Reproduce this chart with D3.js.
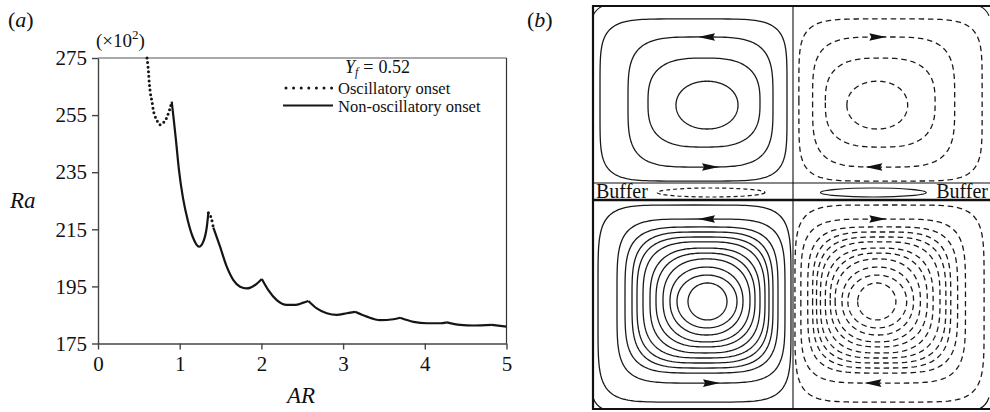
<!DOCTYPE html>
<html>
<head>
<meta charset="utf-8">
<script src="https://cdn.jsdelivr.net/npm/d3@7"></script>
<style>
  html, body { margin: 0; padding: 0; background: #fff; }
  svg { display: block; font-family: "Liberation Serif", "DejaVu Serif", serif; }
</style>
</head>
<body>
<script>
//------------ DATA: PANEL (a) ----------------------
// Ra in units of 10^2
const oscAR1 = [0.600, 0.616, 0.628, 0.645, 0.661, 0.686, 0.719, 0.759, 0.820, 0.861, 0.882, 0.902];
const oscRa1 = [275.0, 270.8, 266.1, 262.0, 259.7, 255.6, 253.3, 251.6, 253.0, 255.6, 257.4, 259.7];

const oscAR2 = [1.351, 1.372, 1.392, 1.412];
const oscRa2 = [220.8, 220.0, 218.3, 215.6];

const nonOscAR1 = [0.902, 0.925, 0.955, 0.990, 1.040, 1.100, 1.160, 1.237, 1.289, 1.332, 1.351];
const nonOscRa1 = [259.7, 254.0, 246.0, 236.0, 226.0, 218.0, 212.3, 208.9, 210.7, 215.9, 220.8];

const nonOscAR2 = [1.412, 1.494, 1.576, 1.657, 1.739, 1.821, 1.923, 2.005, 2.085, 2.188,
                   2.311, 2.412, 2.514, 2.575, 2.678, 2.800, 2.923, 3.046, 3.147, 3.290,
                   3.453, 3.616, 3.698, 3.861, 4.025, 4.188, 4.270, 4.433, 4.596, 4.821, 5.000];
const nonOscRa2 = [215.6, 208.9, 201.9, 197.2, 194.9, 194.3, 195.5, 197.6, 193.7, 190.2,
                   188.5, 188.5, 189.3, 189.9, 187.3, 185.6, 185.0, 185.6, 186.1, 184.4,
                   183.2, 183.5, 184.0, 182.6, 182.1, 182.1, 182.4, 181.5, 181.3, 181.5, 180.9];

const raTicks = [175, 195, 215, 235, 255, 275];
const arTicks = [0, 1, 2, 3, 4, 5];

//------------ DATA: PANEL (b) ----------------------
// streamline loops of the left cells, as [x0, x1, y0, y1] fractions of the cell
// (right cells are the mirror image, drawn dashed)
const upperLoops = [
  [0.035, 0.970, 0.073, 0.989],
  [0.175, 0.900, 0.175, 0.910],
  [0.275, 0.835, 0.294, 0.797],
  [0.415, 0.725, 0.425, 0.695]
];
const lowerLoops = [
  [0.025, 0.990, 0.024, 0.967],
  [0.120, 0.960, 0.091, 0.876],
  [0.160, 0.925, 0.129, 0.828],
  [0.195, 0.900, 0.153, 0.804],
  [0.220, 0.880, 0.177, 0.780],
  [0.250, 0.860, 0.200, 0.756],
  [0.285, 0.835, 0.230, 0.732],
  [0.315, 0.810, 0.254, 0.703],
  [0.350, 0.785, 0.282, 0.679],
  [0.385, 0.750, 0.321, 0.646],
  [0.420, 0.720, 0.359, 0.612],
  [0.475, 0.670, 0.397, 0.574]
];
// arrows: loop index, side, x fraction, direction (-1 = leftwards)
const upperArrows = [[1, "top", 0.57, -1], [1, "bottom", 0.585, 1]];
const lowerArrows = [[1, "top", 0.57, -1], [1, "bottom", 0.59, 1]];
// thin buffer eddy, x fractions of the left cell
const bufferEddy = [0.32, 0.86];
const panelLabels = ["(a)", "(b)"];

//----------- SVG ---------------------------------
const W = 990, H = 412;
const svg = d3.select("body").append("svg").attr("width", W).attr("height", H);

//----------- PANEL (a) ---------------------------
const x = d3.scaleLinear().domain([0, 5]).range([98, 506.5]);
const y = d3.scaleLinear().domain([175, 275]).range([343.5, 58]);

const gA = svg.append("g");

// frame top / right
gA.append("line").attr("x1", x(0)).attr("x2", x(5)).attr("y1", y(275)).attr("y2", y(275))
  .attr("stroke", "#555").attr("stroke-width", 1.2);
gA.append("line").attr("x1", x(5)).attr("x2", x(5)).attr("y1", y(275)).attr("y2", y(175))
  .attr("stroke", "#333").attr("stroke-width", 1.2);

const yAxis = gA.append("g").attr("transform", `translate(${x(0)},0)`)
  .call(d3.axisLeft(y).tickValues(raTicks).tickSize(6).tickSizeOuter(0).tickPadding(5));
const xAxis = gA.append("g").attr("transform", `translate(0,${y(175)})`)
  .call(d3.axisBottom(x).tickValues(arTicks).tickFormat(d3.format("d"))
    .tickSize(6).tickSizeOuter(0).tickPadding(7));

[yAxis, xAxis].forEach(a => {
  a.selectAll("path, line").attr("stroke", "#444").attr("stroke-width", 1.4);
  a.selectAll("text").attr("fill", "#111").style("font-size", "21px")
    .style("font-family", '"Liberation Serif", serif');
});

// split a series at its local maxima so the peaks stay sharp
function splitAtPeaks(xs, ys) {
  const pts = xs.map((v, i) => [v, ys[i]]);
  const segs = [];
  let cur = [pts[0]];
  for (let i = 1; i < pts.length; i++) {
    cur.push(pts[i]);
    if (i < pts.length - 1 && ys[i] > ys[i - 1] && ys[i] > ys[i + 1]) {
      segs.push(cur);
      cur = [pts[i]];
    }
  }
  segs.push(cur);
  return segs;
}

const lineA = d3.line().x(d => x(d[0])).y(d => y(d[1])).curve(d3.curveMonotoneX);
const lineCat = d3.line().x(d => x(d[0])).y(d => y(d[1])).curve(d3.curveCatmullRom.alpha(0.5));

[[nonOscAR1, nonOscRa1], [nonOscAR2, nonOscRa2]].forEach(([xs, ys]) => {
  splitAtPeaks(xs, ys).forEach(seg => {
    gA.append("path").attr("d", lineA(seg)).attr("fill", "none")
      .attr("stroke", "#151515").attr("stroke-width", 2.2).attr("stroke-linejoin", "round");
  });
});

[[oscAR1, oscRa1], [oscAR2, oscRa2]].forEach(([xs, ys]) => {
  gA.append("path").attr("d", lineCat(xs.map((v, i) => [v, ys[i]])))
    .attr("fill", "none").attr("stroke", "#151515").attr("stroke-width", 3)
    .attr("stroke-linecap", "round").attr("stroke-dasharray", "0 4.6");
});

// multiplier
const mult = gA.append("text").attr("x", 96).attr("y", 47).style("font-size", "19px").attr("fill", "#111");
mult.append("tspan").text("(×10");
mult.append("tspan").attr("dy", -8).style("font-size", "13px").text("2");
mult.append("tspan").attr("dy", 8).text(")");

// axis titles
gA.append("text").attr("x", 10).attr("y", 208).style("font-size", "23px")
  .style("font-style", "italic").attr("fill", "#111").text("Ra");
gA.append("text").attr("x", 287).attr("y", 403).style("font-size", "23px")
  .style("font-style", "italic").attr("fill", "#111").text("AR");

// legend
const yf = gA.append("text").attr("x", 345).attr("y", 73).style("font-size", "18px").attr("fill", "#111");
yf.append("tspan").style("font-style", "italic").text("Y");
yf.append("tspan").style("font-style", "italic").style("font-size", "12px").attr("dy", 3).text("f");
yf.append("tspan").attr("dy", -3).attr("dx", 5).text("=");
yf.append("tspan").attr("dx", 5).text("0.52");

gA.append("line").attr("x1", 286).attr("x2", 333).attr("y1", 88).attr("y2", 88)
  .attr("stroke", "#151515").attr("stroke-width", 3).attr("stroke-linecap", "round")
  .attr("stroke-dasharray", "0 7.6");
gA.append("text").attr("x", 338).attr("y", 93.5).style("font-size", "16.5px").attr("fill", "#111")
  .text("Oscillatory onset");
gA.append("line").attr("x1", 283).attr("x2", 333).attr("y1", 105.5).attr("y2", 105.5)
  .attr("stroke", "#151515").attr("stroke-width", 2);
gA.append("text").attr("x", 338).attr("y", 112).style("font-size", "16.5px").attr("fill", "#111")
  .text("Non-oscillatory onset");

//----------- PANEL (b) ---------------------------
const gB = svg.append("g");
const leftX = d3.scaleLinear().domain([0, 1]).range([593, 793]);
const rightX = d3.scaleLinear().domain([0, 1]).range([989, 793]);   // mirrored
const upperY = d3.scaleLinear().domain([0, 1]).range([6, 183]);
const lowerY = d3.scaleLinear().domain([0, 1]).range([200, 409]);

// superellipse loop through the fractions; squarer as it grows
function loopPoints(d) {
  const [x0, x1, y0, y1] = d;
  const cx = (x0 + x1) / 2, cy = (y0 + y1) / 2, hx = (x1 - x0) / 2, hy = (y1 - y0) / 2;
  const size = Math.max(0, Math.min(1, ((x1 - x0) - 0.2) / 0.8));
  const n = 2 + 4.2 * Math.pow(size, 2);
  const pts = [];
  for (let k = 0; k < 200; k++) {
    const t = k / 200 * 2 * Math.PI, c = Math.cos(t), s = Math.sin(t);
    pts.push([cx + hx * Math.sign(c) * Math.pow(Math.abs(c), 2 / n),
              cy + hy * Math.sign(s) * Math.pow(Math.abs(s), 2 / n)]);
  }
  return pts;
}

function drawCell(loops, arrows, sx, sy, dashed) {
  const line = d3.line().x(p => sx(p[0])).y(p => sy(p[1])).curve(d3.curveLinearClosed);
  gB.append("g").selectAll("path").data(loops).join("path")
    .attr("d", d => line(loopPoints(d)))
    .attr("fill", "none").attr("stroke", "#1a1a1a").attr("stroke-width", 1.3)
    .attr("stroke-dasharray", dashed ? "5.5 3.8" : null);
  arrows.forEach(([li, side, ax, dir]) => {
    const lp = loops[li];
    const py = sy(side === "top" ? lp[2] : lp[3]);
    const px = sx(ax);
    const s = Math.sign(sx(ax + dir * 0.01) - px);
    gB.append("path")
      .attr("d", `M${px + s * 9},${py} L${px - s * 8},${py - 3.8} L${px - s * 6},${py} L${px - s * 8},${py + 3.8} Z`)
      .attr("fill", "#111");
  });
}

drawCell(upperLoops, upperArrows, leftX, upperY, false);
drawCell(upperLoops, upperArrows, rightX, upperY, true);
drawCell(lowerLoops, lowerArrows, leftX, lowerY, false);
drawCell(lowerLoops, lowerArrows, rightX, lowerY, true);

// corner eddies
function corner(sx, sy, cx, cy) {
  const dx = cx === 0 ? 1 : -1, dy = cy === 0 ? 1 : -1;
  const p0 = [cx, cy + dy * 0.055], p1 = [cx + dx * 0.05, cy];
  const c = [cx + dx * 0.014, cy + dy * 0.016];
  gB.append("path")
    .attr("d", `M${sx(p0[0])},${sy(p0[1])} Q${sx(c[0])},${sy(c[1])} ${sx(p1[0])},${sy(p1[1])}`)
    .attr("fill", "none").attr("stroke", "#1a1a1a").attr("stroke-width", 1.2);
}
corner(leftX, upperY, 0, 0);
corner(rightX, upperY, 0, 0);
corner(leftX, lowerY, 0, 1);
corner(rightX, lowerY, 0, 1);

// buffer eddies
const bufCy = 192.5;
gB.append("ellipse").attr("cx", (leftX(bufferEddy[0]) + leftX(bufferEddy[1])) / 2).attr("cy", bufCy)
  .attr("rx", (leftX(bufferEddy[1]) - leftX(bufferEddy[0])) / 2).attr("ry", 4.5)
  .attr("fill", "none").attr("stroke", "#1a1a1a").attr("stroke-width", 1.2).attr("stroke-dasharray", "4 3");
gB.append("ellipse").attr("cx", (rightX(bufferEddy[0]) + rightX(bufferEddy[1])) / 2).attr("cy", bufCy)
  .attr("rx", Math.abs(rightX(bufferEddy[1]) - rightX(bufferEddy[0])) / 2).attr("ry", 4.5)
  .attr("fill", "none").attr("stroke", "#1a1a1a").attr("stroke-width", 1.2);

gB.append("text").attr("x", 596).attr("y", 198).style("font-size", "20px").attr("fill", "#111").text("Buffer");
gB.append("text").attr("x", 988).attr("y", 198).attr("text-anchor", "end")
  .style("font-size", "20px").attr("fill", "#111").text("Buffer");

// frame and dividers
const fr = (x1, y1, x2, y2, w) => gB.append("line").attr("x1", x1).attr("y1", y1).attr("x2", x2).attr("y2", y2)
  .attr("stroke", "#111").attr("stroke-width", w);
fr(593, 6, 990, 6, 2.2);
fr(593, 5, 593, 410, 2.2);
fr(593, 409, 990, 409, 2.2);
fr(593, 183, 990, 183, 1.2);
fr(593, 200, 990, 200, 2.4);
fr(793, 6, 793, 409, 1.1);

// panel labels
[[8, panelLabels[0]], [527, panelLabels[1]]].forEach(([lx, lab]) => {
  const t = svg.append("text").attr("x", lx).attr("y", 27).style("font-size", "22px").attr("fill", "#111");
  t.append("tspan").text("(");
  t.append("tspan").style("font-style", "italic").text(lab[1]);
  t.append("tspan").text(")");
});
</script>
</body>
</html>
